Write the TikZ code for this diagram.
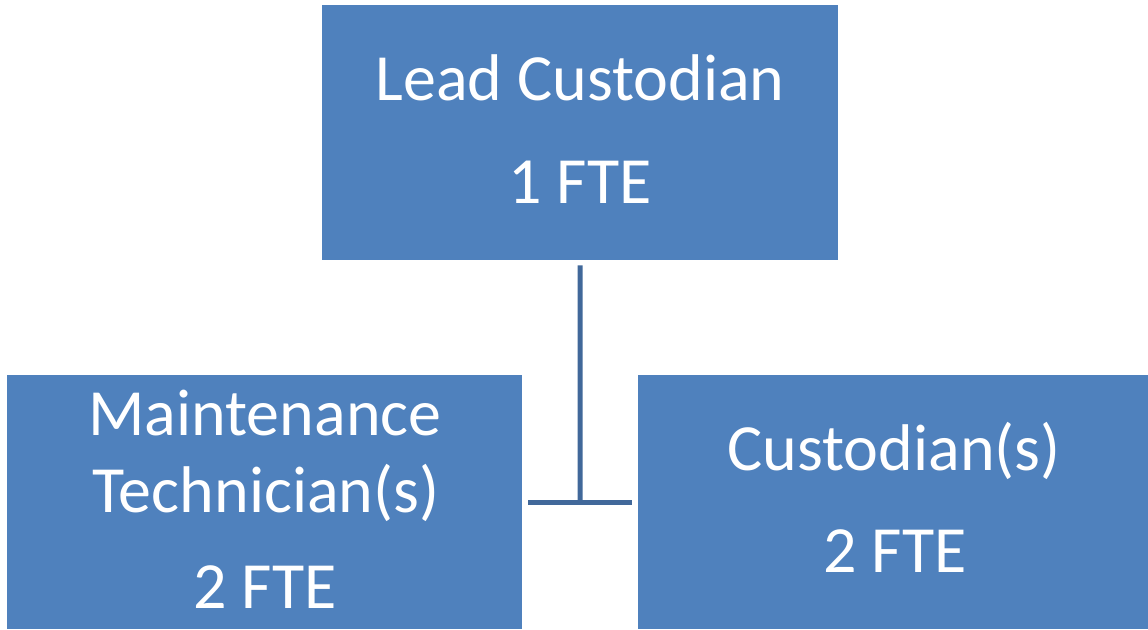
\documentclass[tikz,border=0pt]{standalone}
\usepackage{fontspec}
\setmainfont{Carlito}
\definecolor{boxblue}{HTML}{4F81BD}
\definecolor{lineblue}{HTML}{41689A}
\begin{document}
\begin{tikzpicture}[x=1pt,y=-1pt,
  orgbox/.style={fill=boxblue, draw=none, inner sep=0pt, anchor=north west},
  txt/.style={text=white, font=\fontsize{66}{66}\selectfont, anchor=base, inner sep=0pt},
  conn/.style={draw=lineblue, line width=5pt}]
\useasboundingbox (0,0) rectangle (1148,629);
\node[orgbox, minimum width=516pt, minimum height=255pt] (top) at (322,5) {};
\node[orgbox, minimum width=515pt, minimum height=254pt] (left) at (7,375) {};
\node[orgbox, minimum width=510pt, minimum height=254pt] (right) at (638,375) {};
\node[txt] (t1) at (580,100) {Lead Custodian};
\node[txt] (t2) at (580,203) {1 FTE};
\node[txt] (l1) at (265,435) {Maintenance};
\node[txt] (l2) at (266,512) {Technician(s)};
\node[txt] (l3) at (265,608) {2 FTE};
\node[txt] (r1) at (894,470) {Custodian(s)};
\node[txt] (r2) at (895,572) {2 FTE};
\coordinate (j) at (580,502);
\coordinate (jl) at (528,502);
\coordinate (jr) at (632,502);
\draw[conn] ([yshift=-5pt]top.south) -- (j);
\draw[conn] (jl) -- (jr);
\end{tikzpicture}
\end{document}
